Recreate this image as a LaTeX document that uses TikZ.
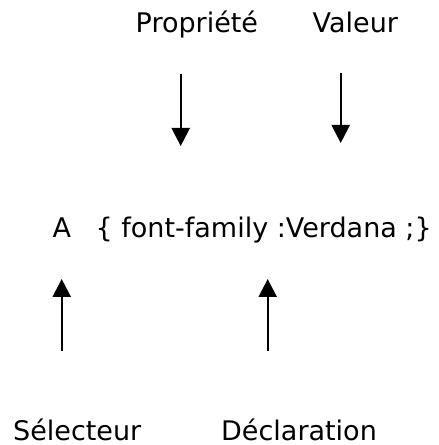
\documentclass[tikz,border=0pt]{standalone}
\usepackage{fontspec}
\setmainfont{DejaVu Sans}
\usetikzlibrary{arrows.meta}
\begin{document}
\begin{tikzpicture}[x=1pt,y=1pt,
  label/.style={inner sep=0pt, anchor=base west, font=\fontsize{27}{31}\selectfont},
  pointer/.style={line width=2.4pt, -{Triangle[length=18pt,width=18pt]}}]
\useasboundingbox (0,0) rectangle (439,445);
% labels above and below the rule
\node[label] (prop) at (135.5,412) {Propriété};
\node[label] (val)  at (312.5,412) {Valeur};
\node[label] (sel)  at (13,5) {Sélecteur};
\node[label] (decl) at (221,5) {Déclaration};
% the CSS rule itself
\node[label] (selA) at (52.5,207) {A};
\node[label] (rule) at (95.5,207) {\{ font-family :Verdana ;\}};
% arrow end points
\coordinate (p0) at (180.7,371);
\coordinate (p1) at (180.7,299);
\coordinate (v0) at (340.7,372);
\coordinate (v1) at (340.7,302);
\coordinate (s0) at (61.7,94);
\coordinate (s1) at (61.7,166);
\coordinate (d0) at (267.7,94);
\coordinate (d1) at (267.7,166);
\draw[pointer] (p0) -- (p1);
\draw[pointer] (v0) -- (v1);
\draw[pointer] (s0) -- (s1);
\draw[pointer] (d0) -- (d1);
\end{tikzpicture}
\end{document}
